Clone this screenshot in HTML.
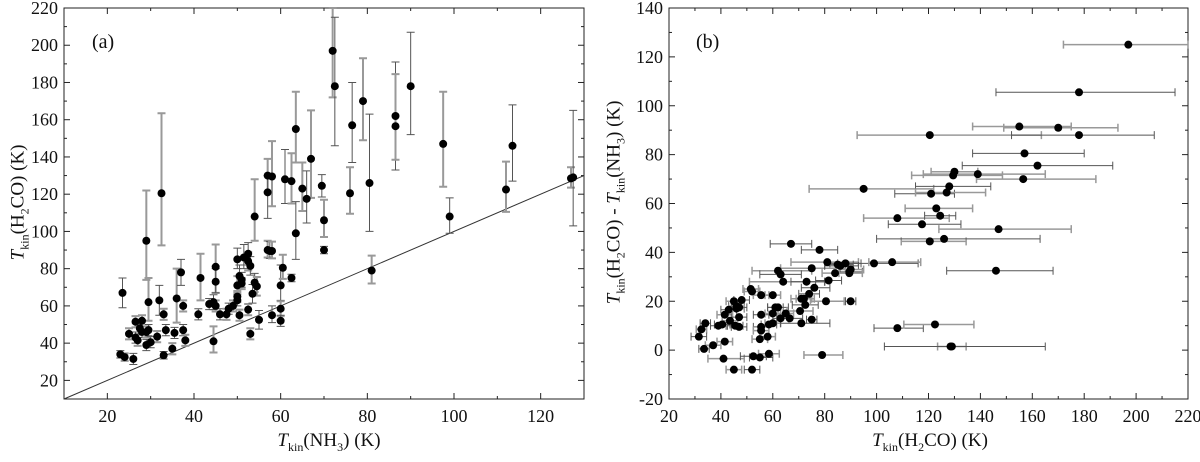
<!DOCTYPE html>
<html><head><meta charset="utf-8"><style>
html,body{margin:0;padding:0;background:#fff;}
svg{display:block;font-family:"Liberation Serif",serif;}
svg text{font-family:"Liberation Serif",serif;}
</style></head><body>
<svg id="chart" width="1200" height="462" viewBox="0 0 1200 462" xmlns="http://www.w3.org/2000/svg"></svg>
<script>
// Panel (a) data: T_kin(NH3), T_kin(H2CO), lower/upper error on H2CO
const xNH3 = [23,24,23.5,25,26,26.5,26.5,27,27.5,28,28,29,29,29,29.5,29.5,30,31.5,32,32.5,33,33,33.5,35,35.5,36,37,37.5,37.5,38,41,41.5,43.5,44.5,44.5,45,45,45,46,47.5,48,49,50,50,50,50,50.5,50.5,51,51,51.5,52.5,52.5,52.5,53,53,53.5,54,54,54.5,55,57,57,57,57.5,58,58,58,60,60,60,60.5,61,62.5,62.5,63.5,63.5,65,66,67,69.5,70,70,72,72.5,76,76.5,79,80.5,81,86.5,86.5,90,97.5,99,112,113.5,127,127.5];
const yH2CO = [34,32.5,67,45,31.5,51.5,43,41.5,48,52,46,95,39,46,47,62,40.5,43.5,63,120.5,33.5,55.5,47,37,45.5,64,78,60,47,41.5,55.5,75,61,41,62,81,73,60,55.5,55.5,58.5,60,85,71,63,65,76,55,74,72,86,58,88,84,81.5,45,66.5,108,72.5,70.5,52.5,130,121,90,89.5,89.5,55,129.5,71,58.5,52,80.5,128,127,75,155,99,123,117.5,139,124.5,106,90,197,178,120.5,157,170,126,79,162,156.5,178,147,108,122.5,146,128.5,129];
const errLo = [2,2,8,3,3,3,3,3,3,3,3,21,3,3,3,10,3,3,8,28,2,3,3,3,3,13,7,3,3,3,3,12,3,6,4,14,6,3,3,3,3,3,5,4,3,3,5,3,4,3,6,3,6,5,5,3,5,13,5,5,5,9,14,4,4,4,4,16,8,4,3,6,13,12,2,18,14,12,13,21,6,9,2,25,32,11,20,21,26,7,29,18,26,23,9,12,19,5,26];
const errHi = [2,2,8,3,3,3,3,3,3,3,3,27,3,3,3,13,3,3,8,43,2,3,3,3,3,16,7,3,3,3,3,13,3,8,4,12,7,3,3,3,3,3,6,5,3,3,6,3,4,3,7,3,6,5,5,3,5,20,5,5,5,9,9,5,5,5,5,19,11,4,3,7,16,15,2,20,17,14,15,26,6,11,2,23,37,14,23,23,37,8,29,28,29,28,10,15,22,6,36];

// tick labels
const aXTicks = [20,40,60,80,100,120];
const aYTicks = [20,40,60,80,100,120,140,160,180,200,220];
const bXTicks = [20,40,60,80,100,120,140,160,180,200,220];
const bYTicks = [-20,0,20,40,60,80,100,120,140];

const NS="http://www.w3.org/2000/svg";
const svg=document.getElementById('chart');
function el(tag,attrs,parent){const e=document.createElementNS(NS,tag);for(const k in attrs)e.setAttribute(k,attrs[k]);(parent||svg).appendChild(e);return e;}
const FF='Liberation Serif, serif';

function makePanel(cfg){
  const g=el('g',{});
  
  
  const sx=v=>cfg.L+(v-cfg.x0)/(cfg.x1-cfg.x0)*(cfg.R-cfg.L);
  const sy=v=>cfg.B-(v-cfg.y0)/(cfg.y1-cfg.y0)*(cfg.B-cfg.T);
  const frame=el('rect',{x:cfg.L,y:cfg.T,width:cfg.R-cfg.L,height:cfg.B-cfg.T,fill:'none',stroke:'#222','stroke-width':1},g);
  
  
  for(let v=cfg.x0;v<=cfg.x1+1e-9;v+=cfg.xMinor){
    const major=Math.abs((v-cfg.xMajorBase)%cfg.xMajor)<1e-6;
    const len=major?6:3,x=sx(v);
    el('line',{x1:x,x2:x,y1:cfg.B,y2:cfg.B-len,stroke:'#222'},g);
    el('line',{x1:x,x2:x,y1:cfg.T,y2:cfg.T+len,stroke:'#222'},g);
  }
  for(let v=cfg.y0;v<=cfg.y1+1e-9;v+=cfg.yMinor){
    const major=Math.abs(((v-cfg.yMajorBase)%cfg.yMajor+cfg.yMajor)%cfg.yMajor)<1e-6;
    const len=major?6:3,y=sy(v);
    el('line',{x1:cfg.L,x2:cfg.L+len,y1:y,y2:y,stroke:'#222'},g);
    el('line',{x1:cfg.R,x2:cfg.R-len,y1:y,y2:y,stroke:'#222'},g);
  }
  cfg.xt.forEach(v=>{const t=el('text',{x:sx(v),y:cfg.B+23,'text-anchor':'middle','font-size':18,'font-family':FF,fill:'#111'},g);t.textContent=v;
    
    });
  cfg.yt.forEach(v=>{const t=el('text',{x:cfg.L-6,y:sy(v)+6,'text-anchor':'end','font-size':18,'font-family':FF,fill:'#111'},g);t.textContent=v;
    
    });
  return {g,sx,sy};
}

// Panel (a)
const A=makePanel({name:'panel-a',L:64,R:584,T:8,B:399,x0:10,x1:130,y0:10,y1:220,xMinor:10,xMajor:20,xMajorBase:20,yMinor:10,yMajor:20,yMajorBase:20,xt:aXTicks,yt:aYTicks});
const diag=el('line',{x1:A.sx(10),y1:A.sy(10),x2:A.sx(130),y2:A.sy(130),stroke:'#333','stroke-width':1},A.g);


xNH3.forEach((x,i)=>{
  const y=yH2CO[i],cx=A.sx(x),col=i%2?'#999':'#555';
  const e=el('path',{d:`M${cx},${A.sy(y-errLo[i])}V${A.sy(y+errHi[i])}M${cx-4},${A.sy(y-errLo[i])}h8M${cx-4},${A.sy(y+errHi[i])}h8`,stroke:col,'stroke-width':i%2?2:1,fill:'none'},A.g);
  
  
});
xNH3.forEach((x,i)=>{
  const c=el('circle',{cx:A.sx(x),cy:A.sy(yH2CO[i]),r:4,fill:'#000'},A.g);
  
  
});
const la=el('text',{x:92,y:48,'font-size':20,'font-family':FF,fill:'#111'},A.g);la.textContent='(a)';



// Panel (b): x = H2CO, y = H2CO - NH3
const B=makePanel({name:'panel-b',L:669,R:1188,T:8,B:399,x0:20,x1:220,y0:-20,y1:140,xMinor:10,xMajor:20,xMajorBase:20,yMinor:10,yMajor:20,yMajorBase:-20,xt:bXTicks,yt:bYTicks});
xNH3.forEach((x,i)=>{
  const xv=yH2CO[i],yv=yH2CO[i]-x,cy=B.sy(yv),col=i%2?'#999':'#555';
  const x1=B.sx(Math.max(20,xv-errLo[i])),x2=B.sx(Math.min(220,xv+errHi[i]));
  const e=el('path',{d:`M${x1},${cy}H${x2}M${x1},${cy-4}v8M${x2},${cy-4}v8`,stroke:col,'stroke-width':i%2?1.5:1,fill:'none'},B.g);
  
  
});
xNH3.forEach((x,i)=>{
  const c=el('circle',{cx:B.sx(yH2CO[i]),cy:B.sy(yH2CO[i]-x),r:4,fill:'#000'},B.g);
  
  
});
const lb=el('text',{x:696,y:48,'font-size':20,'font-family':FF,fill:'#111'},B.g);lb.textContent='(b)';


</script>
<div style="position:absolute;left:0;top:0;width:1200px;height:462px;pointer-events:none;font-family:'Liberation Serif',serif;color:#111;font-size:19px;">
  <div style="position:absolute;left:264px;top:430px;width:130px;text-align:center;white-space:nowrap;"><i>T</i><sub style="font-size:12px">kin</sub>(NH<sub style="font-size:12px">3</sub>) (K)</div>
  <div style="position:absolute;left:-50px;top:190px;width:140px;text-align:center;white-space:nowrap;transform:rotate(-90deg);transform-origin:center;"><i>T</i><sub style="font-size:12px">kin</sub>(H<sub style="font-size:12px">2</sub>CO) (K)</div>
  <div style="position:absolute;left:860px;top:430px;width:140px;text-align:center;white-space:nowrap;"><i>T</i><sub style="font-size:12px">kin</sub>(H<sub style="font-size:12px">2</sub>CO) (K)</div>
  <div style="position:absolute;left:486px;top:190px;width:260px;text-align:center;white-space:nowrap;transform:rotate(-90deg);transform-origin:center;"><i>T</i><sub style="font-size:12px">kin</sub>(H<sub style="font-size:12px">2</sub>CO) - <i>T</i><sub style="font-size:12px">kin</sub>(NH<sub style="font-size:12px">3</sub>) (K)</div>
</div>
</body></html>
